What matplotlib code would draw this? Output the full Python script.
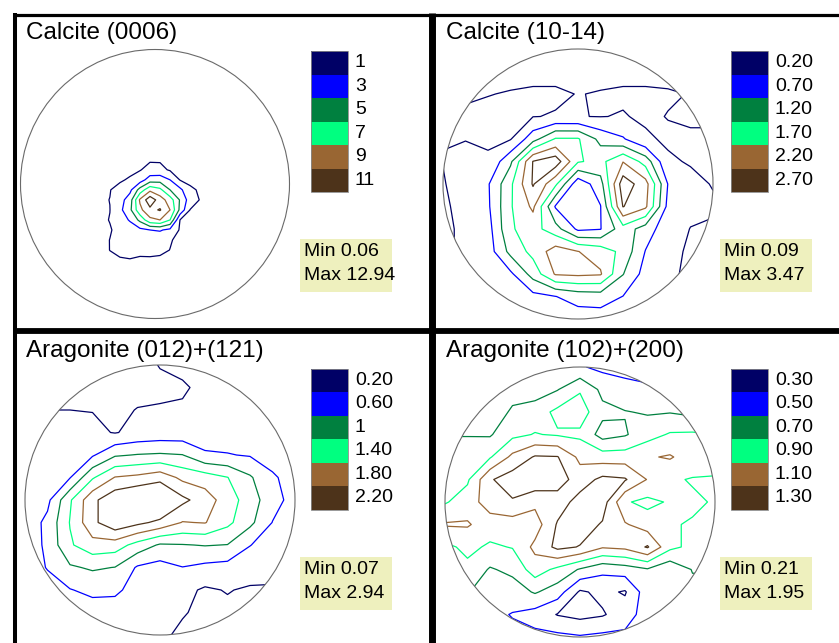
import numpy as np
import matplotlib.pyplot as plt
from matplotlib.patches import Circle, Rectangle

plt.rcParams['font.family'] = ['Liberation Sans', 'DejaVu Sans']

########################################################################
# Data: pole figure densities (rows top to bottom)
########################################################################

titles = ['Calcite (0006)', 'Calcite (10-14)',
          'Aragonite (012)+(121)', 'Aragonite (102)+(200)']

levels_all = [[1, 3, 5, 7, 9, 11],
              [0.2, 0.7, 1.2, 1.7, 2.2, 2.7],
              [0.2, 0.6, 1.0, 1.4, 1.8, 2.2],
              [0.3, 0.5, 0.7, 0.9, 1.1, 1.3]]
level_labels = [['1', '3', '5', '7', '9', '11'],
                ['0.20', '0.70', '1.20', '1.70', '2.20', '2.70'],
                ['0.20', '0.60', '1', '1.40', '1.80', '2.20'],
                ['0.30', '0.50', '0.70', '0.90', '1.10', '1.30']]
min_vals = ['0.06', '0.09', '0.07', '0.21']
max_vals = ['12.94', '3.47', '2.94', '1.95']

level_colors = ['#000066', '#0000ff', '#00803f', '#00ff80', '#996633', '#4d331a']

# grid extents in unit-circle coords: (u_left, u_right, v_top, v_bottom)
ext_0006 = (-0.41, 0.41, 0.18, -0.64)
ext_full = (-1.0, 1.0, 1.0, -1.0)

dens_0006 = [
    [0.3, 0.3, 0.4, 0.5, 0.6, 0.8, 0.8, 0.6, 0.5, 0.4, 0.3, 0.3],
    [0.3, 0.35, 0.45, 0.6, 0.9, 1.6, 1.5, 0.8, 0.55, 0.45, 0.35, 0.3],
    [0.4, 0.5, 0.8, 1.2, 2.0, 4.0, 4.2, 3.0, 0.9, 0.6, 0.45, 0.35],
    [0.8, 0.95, 1.5, 2.5, 5.8, 8.5, 7.5, 5.0, 3.5, 1.3, 0.8, 0.5],
    [0.8, 1.02, 2.2, 4.0, 9.3, 12.3, 10.0, 8.0, 4.8, 2.0, 0.9, 0.6],
    [0.8, 0.98, 2.5, 4.5, 8.5, 10.5, 11.15, 9.0, 4.5, 0.95, 0.7, 0.5],
    [0.7, 1.05, 2.0, 3.2, 5.5, 8.5, 9.0, 7.0, 0.95, 0.7, 0.5, 0.4],
    [0.6, 0.9, 1.4, 1.9, 2.5, 3.0, 3.2, 2.5, 0.8, 0.6, 0.4, 0.35],
    [0.6, 1.02, 1.3, 1.5, 1.6, 1.7, 1.6, 1.1, 0.7, 0.5, 0.4, 0.3],
    [0.5, 1.02, 1.25, 1.35, 1.35, 1.4, 1.3, 0.98, 0.6, 0.5, 0.4, 0.3],
    [0.4, 0.7, 0.9, 0.95, 0.8, 0.8, 0.75, 0.6, 0.5, 0.4, 0.35, 0.3],
    [0.3, 0.4, 0.5, 0.55, 0.55, 0.55, 0.5, 0.45, 0.4, 0.35, 0.3, 0.3],
]

dens_1014 = [
    [0.35] * 13,
    [0.3] * 13,
    [0.25, 0.25, 0.21, 0.18, 0.15, 0.15, 0.21, 0.18, 0.15, 0.15, 0.17, 0.21, 0.21],
    [0.15, 0.14, 0.12, 0.12, 0.19, 0.22, 0.21, 0.19, 0.22, 0.15, 0.21, 0.25, 0.25],
    [0.19, 0.19, 0.15, 0.17, 1.0, 1.75, 1.75, 1.05, 0.75, 0.25, 0.15, 0.15, 0.15],
    [0.21, 0.3, 0.25, 1.1, 2.72, 3.0, 1.75, 1.55, 2.18, 1.5, 0.25, 0.17, 0.17],
    [0.17, 0.4, 0.65, 1.6, 2.75, 1.8, 0.35, 1.0, 3.0, 2.4, 0.68, 0.3, 0.18],
    [0.15, 0.3, 0.62, 1.65, 2.3, 0.65, 0.3, 0.68, 2.72, 2.3, 0.55, 0.3, 0.25],
    [0.15, 0.25, 0.5, 1.65, 1.9, 1.4, 0.6, 0.68, 1.5, 0.95, 0.4, 0.19, 0.15],
    [0.15, 0.25, 0.45, 1.35, 1.85, 2.45, 2.21, 2.0, 1.55, 0.68, 0.3, 0.15, 0.12],
    [0.21, 0.21, 0.25, 0.6, 1.4, 2.25, 2.3, 2.25, 1.22, 0.5, 0.25, 0.15, 0.15],
    [0.3, 0.3, 0.3, 0.35, 0.55, 0.69, 0.9, 0.95, 0.69, 0.45, 0.3, 0.3, 0.3],
    [0.45] * 13,
]

dens_012 = [
    [0.12, 0.12, 0.12, 0.12, 0.12, 0.12, 0.21, 0.3, 0.3, 0.3, 0.3, 0.3, 0.3],
    [0.12, 0.12, 0.12, 0.12, 0.12, 0.12, 0.15, 0.15, 0.3, 0.3, 0.3, 0.3, 0.3],
    [0.2, 0.2, 0.2, 0.19, 0.14, 0.21, 0.22, 0.25, 0.3, 0.35, 0.35, 0.35, 0.35],
    [0.3, 0.3, 0.3, 0.28, 0.18, 0.3, 0.35, 0.35, 0.4, 0.4, 0.38, 0.35, 0.3],
    [0.3, 0.35, 0.45, 0.55, 0.95, 1.02, 1.05, 1.01, 0.65, 0.62, 0.57, 0.45, 0.4],
    [0.3, 0.4, 0.58, 1.35, 1.82, 1.9, 2.05, 1.7, 1.6, 1.41, 1.05, 0.65, 0.45],
    [0.35, 0.5, 1.35, 2.1, 2.5, 2.7, 2.8, 2.3, 2.0, 1.6, 1.2, 0.75, 0.45],
    [0.35, 0.7, 1.42, 2.1, 2.5, 2.3, 2.1, 1.78, 1.82, 1.5, 1.1, 0.59, 0.4],
    [0.3, 0.7, 1.35, 1.65, 1.6, 1.25, 0.95, 0.98, 1.02, 0.99, 0.61, 0.45, 0.35],
    [0.4, 0.62, 0.95, 1.05, 0.99, 0.55, 0.45, 0.59, 0.5, 0.45, 0.4, 0.35, 0.3],
    [0.4, 0.45, 0.58, 0.7, 0.7, 0.4, 0.35, 0.3, 0.15, 0.22, 0.15, 0.15, 0.15],
    [0.4, 0.4, 0.4, 0.4, 0.35, 0.3, 0.28, 0.22, 0.14, 0.12, 0.12, 0.12, 0.12],
    [0.3, 0.3, 0.3, 0.3, 0.3, 0.3, 0.25, 0.15, 0.12, 0.12, 0.12, 0.12, 0.12],
]

dens_102 = [
    [0.6, 0.6, 0.6, 0.6, 0.6, 0.6, 0.52, 0.45, 0.45, 0.45, 0.45, 0.45, 0.45],
    [0.65, 0.65, 0.65, 0.65, 0.6, 0.69, 0.88, 0.65, 0.55, 0.52, 0.55, 0.55, 0.55],
    [0.62, 0.62, 0.62, 0.72, 0.8, 0.95, 1.0, 0.75, 0.71, 0.68, 0.69, 0.65, 0.65],
    [0.69, 0.69, 0.68, 0.85, 0.91, 0.88, 0.86, 0.62, 0.68, 0.82, 0.92, 0.93, 0.9],
    [0.8, 0.8, 0.88, 1.15, 1.32, 1.31, 1.05, 1.0, 1.0, 1.08, 1.12, 1.0, 0.95],
    [0.88, 0.87, 1.28, 1.4, 1.45, 1.4, 1.2, 1.35, 1.32, 1.09, 0.92, 0.89, 0.89],
    [0.88, 1.0, 1.2, 1.28, 1.15, 1.2, 1.38, 1.4, 0.92, 0.85, 0.92, 0.92, 0.89],
    [1.12, 1.12, 1.0, 1.0, 1.0, 1.32, 1.4, 1.28, 1.12, 1.0, 0.91, 0.89, 0.88],
    [0.85, 0.95, 0.87, 0.91, 1.15, 1.35, 1.29, 1.12, 1.15, 1.32, 0.95, 0.85, 0.82],
    [0.75, 0.85, 0.68, 0.75, 1.0, 0.85, 0.68, 0.55, 0.6, 0.68, 0.55, 0.71, 0.71],
    [0.71, 0.71, 0.62, 0.6, 0.72, 0.6, 0.27, 0.35, 0.28, 0.62, 0.65, 0.65, 0.65],
    [0.6, 0.6, 0.55, 0.49, 0.42, 0.29, 0.24, 0.28, 0.4, 0.6, 0.62, 0.62, 0.62],
    [0.55, 0.55, 0.55, 0.55, 0.55, 0.55, 0.52, 0.55, 0.55, 0.55, 0.55, 0.55, 0.55],
]

densities = [dens_0006, dens_1014, dens_012, dens_102]
extents = [ext_0006, ext_full, ext_full, ext_full]

########################################################################
# Layout (pixel coords of the 839x643 picture)
########################################################################

centers = [(155, 184), (578, 184), (160, 500), (580, 502)]
radii = [134.5, 135, 135, 135]
origins = [(0, 0), (420, 0), (0, 317.5), (420, 317.5)]


def draw_panel(ax, k):
    cx, cy = centers[k]
    r = radii[k]
    ox, oy = origins[k]

    # stereographic net outline
    circ = Circle((cx, cy), r, fill=False, ec='#6a6a6a', lw=0.8, zorder=3)
    ax.add_patch(circ)

    z = np.array(densities[k])
    e = extents[k]
    u = np.linspace(e[0], e[1], z.shape[1])
    v = np.linspace(e[2], e[3], z.shape[0])
    U, V = np.meshgrid(u, v)
    cs = ax.contour(cx + r * U, cy - r * V, z, levels=levels_all[k],
                    colors=level_colors, linewidths=0.9, zorder=2)
    clip = Circle((cx, cy), r, transform=ax.transData)
    cs.set_clip_path(clip)

    ax.text(ox + 26, oy + 33, titles[k], fontsize=17.5, va='center', ha='left')

    # colour key
    bh = 23.5
    for i, col in enumerate(level_colors):
        ax.add_patch(Rectangle((ox + 311, oy + 51 + i * bh), 37, bh,
                               fc=col, ec='none', zorder=3))
        ax.text(ox + 355, oy + 51 + (i + 0.5) * bh, level_labels[k][i],
                fontsize=14, va='center', ha='left')
    ax.add_patch(Rectangle((ox + 311, oy + 51), 37, 6 * bh, fill=False,
                           ec='#888888', lw=0.6, zorder=4))

    # min / max box
    ax.add_patch(Rectangle((ox + 300, oy + 239), 92, 53, fc='#eef0be',
                           ec='none', zorder=1))
    ax.text(ox + 304, oy + 252, 'Min ' + min_vals[k], fontsize=14,
            va='center', ha='left', zorder=5)
    ax.text(ox + 304, oy + 276, 'Max ' + max_vals[k], fontsize=14,
            va='center', ha='left', zorder=5)


fig = plt.figure(figsize=(8.39, 6.43), dpi=100)
ax = fig.add_axes([0, 0, 1, 1])
ax.set_xlim(0, 839)
ax.set_ylim(643, 0)
ax.axis('off')

for k in range(4):
    draw_panel(ax, k)

# panel frames
ax.plot([13, 839], [14.7, 14.7], color='black', lw=2.3, solid_capstyle='butt')
ax.plot([15, 15], [13, 643], color='black', lw=2.9, solid_capstyle='butt')
ax.plot([431.5, 431.5], [13, 643], color='black', lw=5.0, solid_capstyle='butt')
ax.plot([13, 839], [331, 331], color='black', lw=4.2, solid_capstyle='butt')

plt.savefig('out.png', dpi=100)
print('Plot generated')
